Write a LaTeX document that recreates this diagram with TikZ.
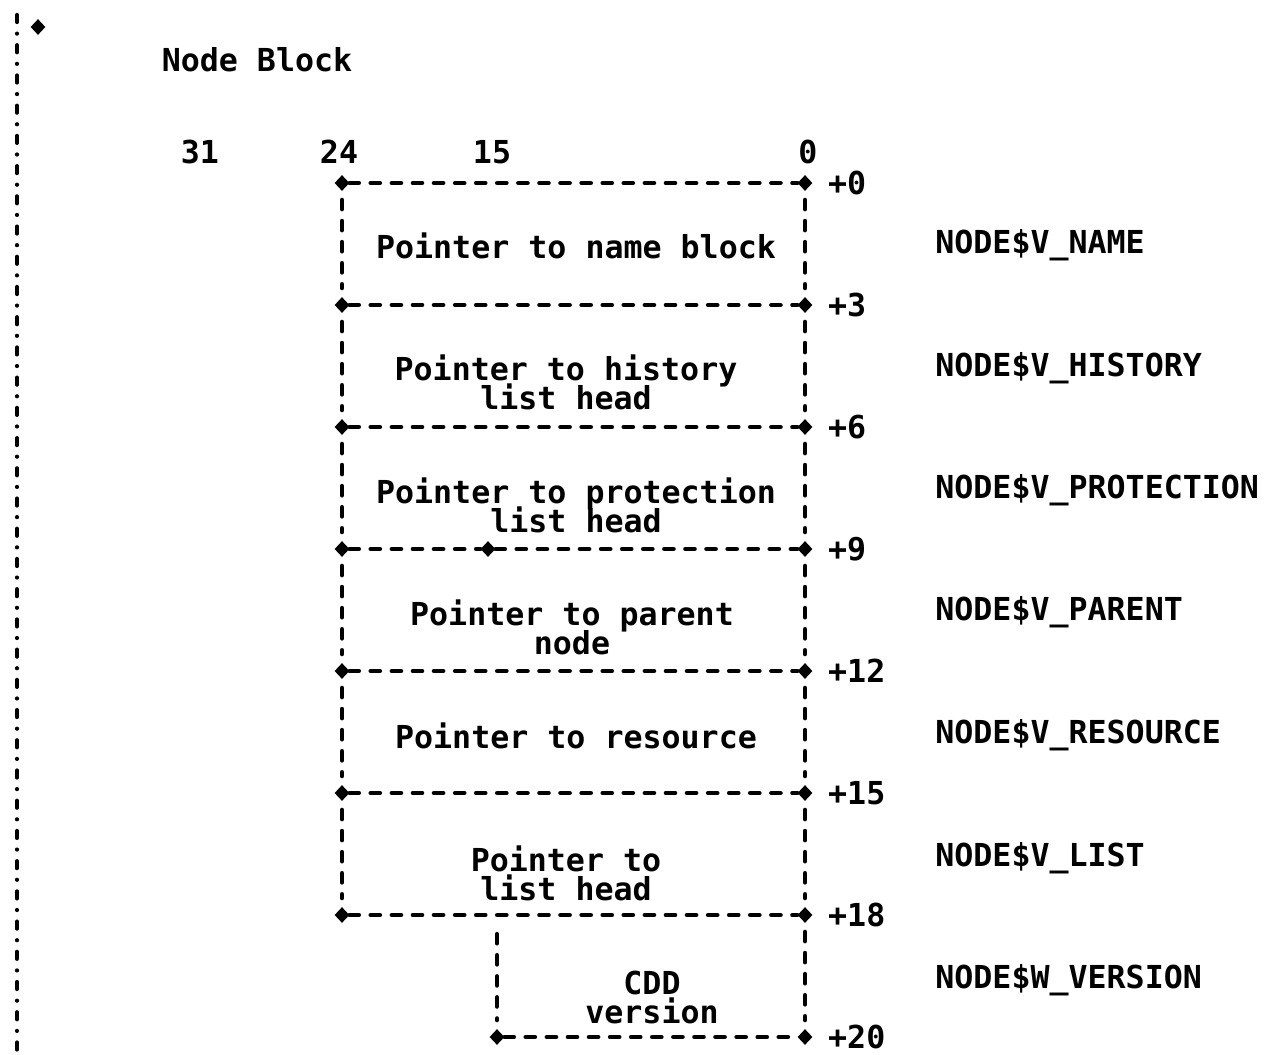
\documentclass[tikz,border=0pt]{standalone}
\usepackage{fontspec}
\setmonofont{DejaVu Sans Mono}
\usepackage{tikz}
\usetikzlibrary{positioning,%
  shapes.geometric
}

\begin{document}
\begin{tikzpicture}
    [
        x=0.02cm, y=-0.02cm,
        every node/.style={inner sep=0pt, font=\ttfamily\bfseries\fontsize{18}{16.5}\selectfont},
        ecke/.style={diamond, fill, minimum width=.3cm, minimum height=.32cm},
        strich/.style={line width=2.8pt, line cap=round, dash pattern=on 5pt off 7pt},
        senkrecht/.style={strich, shorten <=5pt, shorten >=5pt},
        rand/.style={line width=2.4pt, line cap=round, dash pattern=on 4pt off 6.6pt on 0pt off 6.6pt},
        feld/.style={align=center, execute at begin node={\setlength{\lineskiplimit}{-20pt}}},
        wert/.style={anchor=west}
    ]

    % Platzhalter
    \useasboundingbox (0,0) rectangle (1269,1055);

    % Rand
    \coordinate (oben) at (17,15);
    \coordinate (unten) at (17,1055);
    \draw[rand] (oben) -- (unten);
    \node[ecke] (marke) at (38,27) {};

    \node (titel) at (257,60) {Node Block};
    \node (bit31) at (200,152) {31};
    \node (bit24) at (339,152) {24};
    \node (bit15) at (492,152) {15};
    \node (bit0) at (808,152) {0};

    % Ecken
    \foreach \y/\o in {183/0,305/3,427/6,549/9,671/12,793/15,915/18}
    {
        \node[ecke] (l\o) at (342,\y) {};
        \node[ecke] (r\o) at (805,\y) {};
        \node[right=.3cm of r\o] (o\o) {+\o};
    }
    \node[ecke] (m9) at (488,549) {};
    \coordinate (c18) at (497,915);
    \node[ecke] (l20) at (497,1037) {};
    \node[ecke] (r20) at (805,1037) {};
    \node[right=.3cm of r20] (o20) {+20};

    % Linien
    \foreach \o in {0,3,6,12,15,18,20}
        \draw[strich] (l\o) -- (r\o);
    \draw[strich] (l9) -- (m9) -- (r9);
    \foreach \a/\b in {0/3,3/6,6/9,9/12,12/15,15/18}
    {
        \draw[senkrecht] (l\a) -- (l\b);
        \draw[senkrecht] (r\a) -- (r\b);
    }
    \draw[senkrecht] (r18) -- (r20);
    \draw[senkrecht, shorten <=11pt] (c18) -- (l20);

    % Felder
    \node[feld] (f0) at (576,246) {Pointer to name block};
    \node[feld] (f3) at (566,382) {Pointer to history\\list head};
    \node[feld] (f6) at (576,505) {Pointer to protection\\list head};
    \node[feld] (f9) at (572,627) {Pointer to parent\\node};
    \node[feld] (f12) at (576,736) {Pointer to resource};
    \node[feld] (f15) at (566,873) {Pointer to\\list head};
    \node[feld] (f18) at (652,997) {CDD\\version};

    \node[wert] (n0) at (935,245) {NODE\$V\_NAME};
    \node[wert] (n3) at (935,368) {NODE\$V\_HISTORY};
    \node[wert] (n6) at (935,490) {NODE\$V\_PROTECTION};
    \node[wert] (n9) at (935,612) {NODE\$V\_PARENT};
    \node[wert] (n12) at (935,735) {NODE\$V\_RESOURCE};
    \node[wert] (n15) at (935,858) {NODE\$V\_LIST};
    \node[wert] (n18) at (935,980) {NODE\$W\_VERSION};
\end{tikzpicture}
\end{document}
